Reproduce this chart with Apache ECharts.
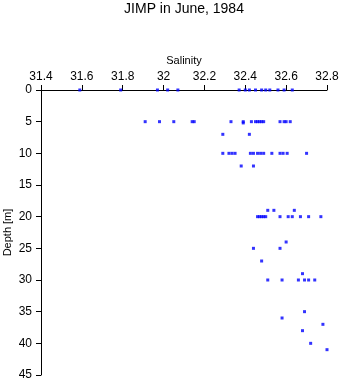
<!DOCTYPE html>
<html><head><meta charset="utf-8">
<script src="https://cdn.jsdelivr.net/npm/echarts@6/dist/echarts.min.js"></script>
<style>html,body{margin:0;padding:0;background:#fff}#c{width:340px;height:384px}</style>
</head><body><div id="c"></div>
<script>
var titleText = "JIMP in June, 1984";
var xName = "Salinity";
var yName = "Depth [m]";
var salinity = [
  31.59, 31.79, 31.97, 32.02, 32.07, 32.37, 32.40, 32.42, 32.45, 32.48, 32.50, 32.52, 32.56, 32.59, 32.63,
  31.91, 31.98, 32.05, 32.14, 32.15, 32.33, 32.39, 32.39, 32.43, 32.45, 32.46, 32.47, 32.48, 32.49, 32.57, 32.59, 32.60, 32.62,
  32.29, 32.42,
  32.29, 32.32, 32.335, 32.35, 32.425, 32.44, 32.46, 32.475, 32.49, 32.53, 32.57, 32.585, 32.605, 32.70,
  32.38, 32.44,
  32.51, 32.54, 32.64,
  32.46, 32.47, 32.48, 32.49, 32.50, 32.57, 32.61, 32.63, 32.67, 32.71, 32.77,
  32.60,
  32.44, 32.57,
  32.48,
  32.68,
  32.51, 32.58, 32.66, 32.69, 32.71, 32.74,
  32.69, 32.58, 32.78, 32.68, 32.72, 32.80
];
var depth = [
  0,0,0,0,0,0,0,0,0,0,0,0,0,0,0,
  5,5,5,5,5,5,5,5.2,5,5,5,5,5,5,5,5,5,5,
  7,7,
  10,10,10,10,10,10,10,10,10,10,10,10,10,10,
  12,12,
  19,19,19,
  20,20,20,20,20,20,20,20,20,20,20,
  24,
  25,25,
  27,
  29,
  30,30,30,30,30,30,
  35,36,37,38,40,41
];
var points = salinity.map(function(s,i){return [s, depth[i]];});
var font = "Liberation Sans, Arial, sans-serif";
var chart = echarts.init(document.getElementById('c'), null, {renderer:'canvas'});
chart.setOption({
  animation:false,
  backgroundColor:'#fff',
  title:{text:titleText,left:184,textAlign:'center',top:2,padding:0,textStyle:{fontFamily:font,fontSize:14,fontWeight:'normal',color:'#000'}},
  grid:{left:41,right:13,top:90,bottom:9,containLabel:false,outerBoundsMode:'none'},
  xAxis:{type:'value',position:'top',min:31.4,max:32.8,interval:0.2,
    name:xName,nameLocation:'middle',nameGap:24,nameMoveOverlap:false,
    nameTextStyle:{fontFamily:font,fontSize:11,color:'#000'},
    axisLine:{show:true,lineStyle:{color:'#000',width:1}},
    axisTick:{show:true,inside:false,length:5,lineStyle:{color:'#000'}},
    axisLabel:{fontFamily:font,fontSize:12,color:'#000',margin:7},
    splitLine:{show:false}},
  yAxis:{type:'value',inverse:true,min:0,max:45,interval:5,
    name:yName,nameLocation:'middle',nameGap:28,nameRotate:90,nameMoveOverlap:false,
    nameTextStyle:{fontFamily:font,fontSize:11,color:'#000'},
    axisLine:{show:true,lineStyle:{color:'#000',width:1}},
    axisTick:{show:true,inside:false,length:5,lineStyle:{color:'#000'}},
    axisLabel:{fontFamily:font,fontSize:12,color:'#000',margin:9},
    splitLine:{show:false}},
  series:[{type:'scatter',data:points,symbol:'rect',symbolSize:3,clip:false,
    itemStyle:{color:'#0000ff'}}]
});
</script></body></html>
